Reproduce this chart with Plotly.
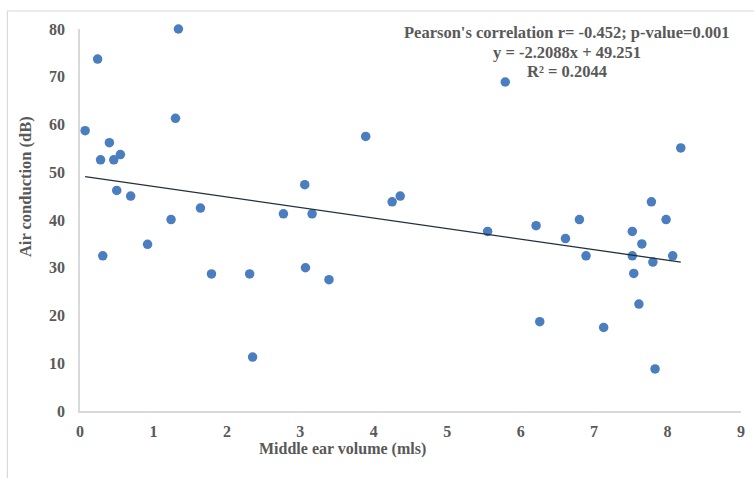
import plotly.graph_objects as go

# Data
volume = [0.07, 0.24, 0.28, 0.31, 0.40, 0.46, 0.55, 0.50, 0.69, 0.92,
          1.24, 1.30, 1.34, 1.64, 1.79, 2.31, 2.35, 2.77, 3.06, 3.07,
          3.16, 3.39, 3.89, 4.25, 4.36, 5.55, 5.79, 6.21, 6.26, 6.61,
          6.80, 6.89, 7.13, 7.52, 7.52, 7.54, 7.65, 7.61, 7.78, 7.80,
          7.83, 7.98, 8.07, 8.18]
air_conduction = [58.7, 73.7, 52.6, 32.5, 56.2, 52.6, 53.7, 46.2, 45.0, 34.9,
                  40.1, 61.3, 80.0, 42.5, 28.7, 28.7, 11.3, 41.3, 47.4, 30.0,
                  41.3, 27.5, 57.5, 43.8, 45.0, 37.6, 68.9, 38.8, 18.7, 36.1,
                  40.1, 32.5, 17.5, 37.6, 32.5, 28.8, 35.0, 22.4, 43.8, 31.2,
                  8.8, 40.1, 32.5, 55.1]

slope = -2.2088
intercept = 49.251
x_ticks = [0, 1, 2, 3, 4, 5, 6, 7, 8, 9]
y_ticks = [0, 10, 20, 30, 40, 50, 60, 70, 80]

stats_lines = ["Pearson's correlation r= -0.452; p-value=0.001",
               "y = -2.2088x + 49.251",
               "R² = 0.2044"]

x_line = [min(volume), max(volume)]
y_line = [slope * v + intercept for v in x_line]

serif = "Liberation Serif, Times New Roman, serif"
gray = "#595959"

fig = go.Figure()
fig.add_trace(go.Scatter(
    x=volume, y=air_conduction, mode="markers",
    marker=dict(size=9.5, color="#4a7ebf"),
    showlegend=False, cliponaxis=False))
fig.add_trace(go.Scatter(
    x=x_line, y=y_line, mode="lines",
    line=dict(color="#22303e", width=1.3),
    showlegend=False))

annotations = []
for i, line in enumerate(stats_lines):
    annotations.append(dict(
        text=line, xref="paper", yref="paper",
        x=(570 - 80) / 665, y=(411.5 - (33 + 19.5 * i)) / 382.5,
        xanchor="center", yanchor="middle", showarrow=False,
        font=dict(family=serif, size=16.5, color=gray, weight="bold")))
annotations += [
    dict(text="Middle ear volume (mls)", xref="paper", yref="paper",
         x=(344 - 80) / 665, y=(411.5 - 450) / 382.5,
         xanchor="center", yanchor="middle", showarrow=False,
         font=dict(family=serif, size=16, color=gray, weight="bold")),
    dict(text="Air conduction (dB)", xref="paper", yref="paper",
         x=(25 - 80) / 665, y=(411.5 - 187) / 382.5, textangle=-90,
         xanchor="center", yanchor="middle", showarrow=False,
         font=dict(family=serif, size=16.5, color=gray, weight="bold")),
]

fig.update_layout(
    width=754, height=478,
    margin=dict(l=80, r=9, t=29, b=67),
    paper_bgcolor="white", plot_bgcolor="white",
    font=dict(family=serif, color=gray),
    xaxis=dict(range=[0, 9], tickvals=x_ticks, showgrid=False, zeroline=False,
               showline=True, linecolor="#d9d9d9", linewidth=1.5,
               ticks="outside", ticklen=5, tickcolor="rgba(0,0,0,0)",
               tickfont=dict(family=serif, size=16, color=gray, weight="bold")),
    yaxis=dict(range=[0, 80], tickvals=y_ticks, showgrid=False, zeroline=False,
               showline=True, linecolor="#d9d9d9", linewidth=1.5,
               ticks="outside", ticklen=10, tickcolor="rgba(0,0,0,0)",
               tickfont=dict(family=serif, size=16, color=gray, weight="bold")),
    shapes=[dict(type="rect", xref="paper", yref="paper",
                 x0=(7 - 80) / 665, x1=1.2, y0=-0.3, y1=(411.5 - 11) / 382.5,
                 line=dict(color="#d9d9d9", width=1.2), layer="below")],
    annotations=annotations,
)

fig.write_html("out.html")
